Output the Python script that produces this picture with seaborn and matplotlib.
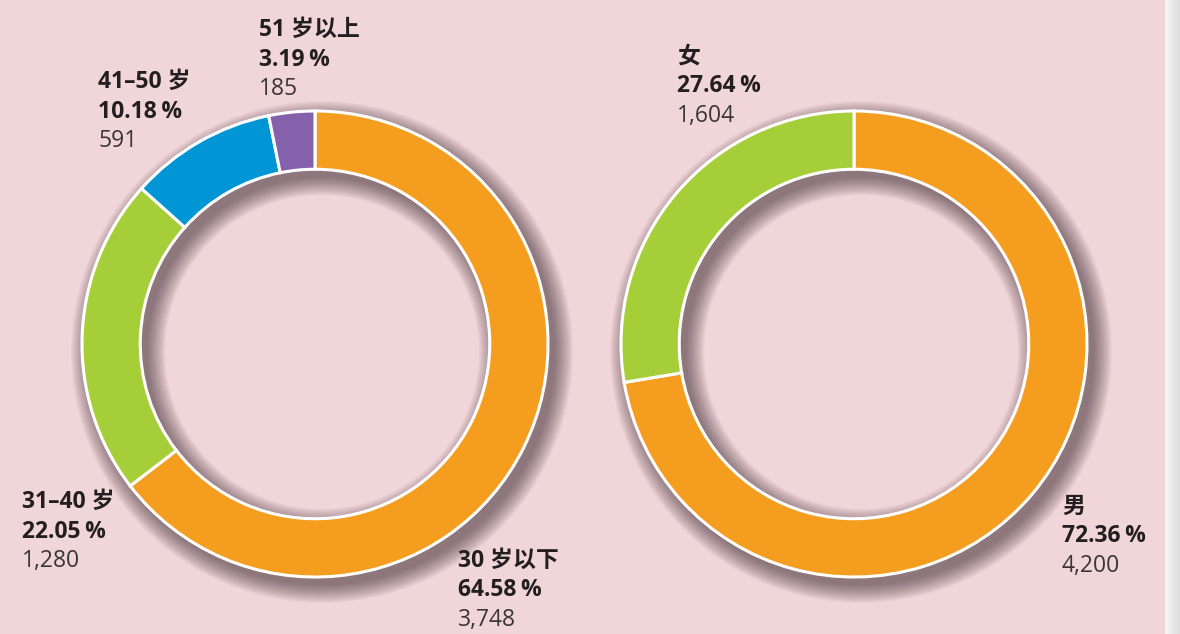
import matplotlib
matplotlib.use("Agg")

import numpy as np
import matplotlib.pyplot as plt
import seaborn as sns
from matplotlib.patches import Wedge

# ── Data ──────────────────────────────────────────────────────────────────────
age_labels = ["30 岁以下", "31–40 岁", "41–50 岁", "51 岁以上"]
age_counts = [3748, 1280, 591, 185]

gender_labels = ["男", "女"]
gender_counts = [4200, 1604]

# ── Style ─────────────────────────────────────────────────────────────────────
BG = "#f0d5d9"
ORANGE, GREEN, BLUE, PURPLE = "#f59d1e", "#a6ce39", "#0096d6", "#8561ab"
age_colors = sns.color_palette([ORANGE, GREEN, BLUE, PURPLE])
gender_colors = sns.color_palette([ORANGE, GREEN])

sns.set_style("white")
plt.rcParams["font.family"] = ["Open Sans", "Noto Sans CJK SC", "DejaVu Sans"]

W, H = 1180, 634
R_PX = 233          # outer radius in pixels
RING = 0.25
LIM = 1.15

# label anchors: (left x px, first baseline y px) for each slice, in data order
age_label_pos = [(458, 567), (22, 508), (98, 88), (259, 36)]
gender_label_pos = [(1062, 513), (677, 63)]


def donut(fig, cx, cy, counts, colors):
    half = LIM * R_PX
    ax = fig.add_axes([(cx - half) / W, 1 - (cy + half) / H,
                       2 * half / W, 2 * half / H])
    px = 1 / R_PX
    # soft drop shadow (bottom-right)
    off = (7 * px, -8 * px)
    for s in np.linspace(0, 18 * px, 24):
        ax.add_patch(Wedge(off, 1 + s, 0, 360, width=RING + 2 * s,
                           facecolor="#35252e", edgecolor="none",
                           alpha=0.026, zorder=1))
    ax.pie(counts, colors=colors, startangle=90, counterclock=False,
           radius=1,
           wedgeprops=dict(width=RING, edgecolor="white", linewidth=2.2,
                           zorder=2))
    ax.set_xlim(-LIM, LIM)
    ax.set_ylim(-LIM, LIM)
    ax.set_aspect("equal")
    ax.axis("off")
    return ax


def labels(fig, names, counts, positions):
    total = sum(counts)
    for name, n, (x, y) in zip(names, counts, positions):
        pct = 100 * n / total
        lines = [(name, "bold", "#231f20"),
                 (f"{pct:.2f}\u2009%", "bold", "#231f20"),
                 (f"{n:,}", "normal", "#3a3638")]
        for i, (txt, wt, col) in enumerate(lines):
            fig.text(x / W, 1 - (y + i * 29.5) / H, txt, fontsize=16.5,
                     fontweight=wt, color=col, ha="left", va="baseline")


fig = plt.figure(figsize=(W / 100, H / 100), dpi=100)
fig.patch.set_facecolor(BG)

# page edge strip on the right
strip = fig.add_axes([1165 / W, 0, 15 / W, 1])
grad = np.linspace(0.97, 0.86, 50).reshape(1, -1)
strip.imshow(grad, cmap="gray", vmin=0, vmax=1, aspect="auto",
             extent=[0, 1, 0, 1])
strip.axis("off")

donut(fig, 315, 344, age_counts, age_colors)
donut(fig, 854, 344, gender_counts, gender_colors)

labels(fig, age_labels, age_counts, age_label_pos)
labels(fig, gender_labels, gender_counts, gender_label_pos)

fig.savefig("out.png", dpi=100, facecolor=BG)
